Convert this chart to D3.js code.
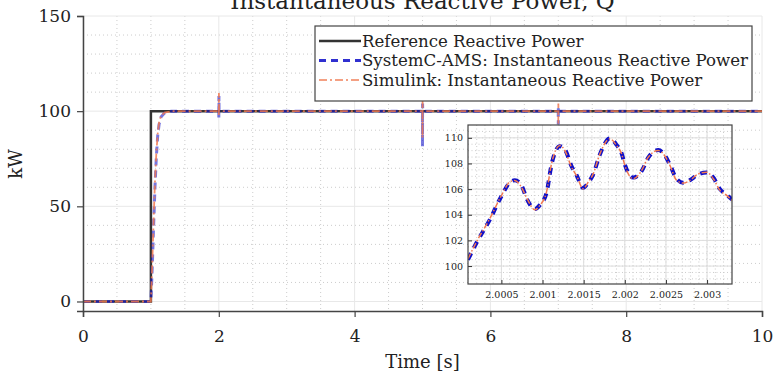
<!DOCTYPE html>
<html>
<head>
<meta charset="utf-8">
<script src="https://cdn.jsdelivr.net/npm/d3@7"></script>
<style>
  body { margin: 0; background: #fff; }
  svg text { font-family: "DejaVu Serif", serif; fill: #222; }
</style>
</head>
<body>
<div id="chart"></div>
<script>
// main plot data
const xTicks = [0, 2, 4, 6, 8, 10];
const yTicks = [0, 50, 100, 150];

const refTime = [0, 1, 1, 10];
const refValue = [0, 0, 100, 100];

const systemcTime = [0, 1.0, 1.02, 1.04, 1.06, 1.08, 1.10, 1.12, 1.15, 1.2, 1.3, 2.0, 2.0003, 2.0018, 2.004, 4.9995, 5.0, 5.001, 5.003, 6.9995, 7.0, 7.001, 7.003, 10];
const systemcValue = [0, 0, 18, 40, 60, 76, 87, 93, 97, 99, 100, 100, 96.5, 108, 100, 100, 81.4, 104, 100, 100, 93, 102, 100, 100];

const simulinkTime = [0, 1.0, 1.02, 1.04, 1.06, 1.08, 1.10, 1.12, 1.15, 1.2, 1.3, 2.0, 2.0003, 2.0018, 2.004, 4.9995, 5.0, 5.001, 5.003, 6.9995, 7.0, 7.001, 7.003, 10];
const simulinkValue = [0, 0, 20, 43, 63, 78, 88, 94, 97.5, 99.2, 100, 100, 97.5, 109.6, 100, 100, 86, 105.4, 100, 100, 93.5, 104, 100, 100];

// inset (zoom around t = 2 s)
const insetXTicks = [2.0005, 2.001, 2.0015, 2.002, 2.0025, 2.003];
const insetXLabels = ["2.0005", "2.001", "2.0015", "2.002", "2.0025", "2.003"];
const insetYTicks = [100, 102, 104, 106, 108, 110];

const insetTime = [2.000094, 2.000196, 2.000358, 2.0005, 2.000601, 2.000662, 2.000743, 2.000812, 2.000906, 2.000967,
  2.001048, 2.001109, 2.00121, 2.001271, 2.001352, 2.001413, 2.001494, 2.001555, 2.001616, 2.001697,
  2.001818, 2.0019, 2.001961, 2.002001, 2.002102, 2.002204, 2.002285, 2.002407, 2.002468, 2.002549,
  2.00263, 2.002711, 2.002792, 2.002893, 2.002995, 2.003076, 2.003157, 2.003238, 2.003303];
const insetSimulink = [100.57, 101.87, 103.69, 105.5, 106.55, 106.68, 106.16, 105.25, 104.39, 104.73,
  105.77, 107.97, 109.4, 109.01, 107.71, 107.06, 106.03, 106.55, 107.19, 108.75,
  109.92, 109.4, 108.75, 107.84, 106.81, 107.45, 108.49, 109.01, 108.75, 107.84,
  106.68, 106.47, 106.68, 107.19, 107.32, 106.81, 105.9, 105.51, 105.12];
const insetSystemC = [100.5, 101.8, 103.6, 105.45, 106.5, 106.7, 106.3, 105.2, 104.45, 104.75,
  105.7, 107.9, 109.35, 109.1, 107.8, 107.1, 106.1, 106.5, 107.15, 108.7,
  109.95, 109.45, 108.8, 107.9, 106.9, 107.4, 108.45, 109.05, 108.8, 107.9,
  106.8, 106.5, 106.7, 107.15, 107.3, 106.9, 106.0, 105.55, 105.2];

const legendNames = ["Reference Reactive Power", "SystemC-AMS: Instantaneous Reactive Power", "Simulink: Instantaneous Reactive Power"];

const W = 774, H = 375;
const margin = { top: 16, right: 12, bottom: 64, left: 83 };
const width = 762 - margin.left;
const height = 311 - margin.top;

const blue = "#1a1acc", orange = "#f07850", dark = "#333";
const FONT = "DejaVu Serif";

const svg = d3.select("#chart").append("svg")
  .attr("width", W).attr("height", H);

const g = svg.append("g")
  .attr("transform", "translate(" + margin.left + "," + margin.top + ")");

const x = d3.scaleLinear().domain([0, 10]).range([0, width]);
const y = d3.scaleLinear().domain([-5, 150]).range([height, 0]);

// grid
g.selectAll(".xminor").data(d3.range(0.5, 10, 0.5).filter(v => v % 2 !== 0))
  .join("line").attr("x1", d => x(d)).attr("x2", d => x(d)).attr("y1", 0).attr("y2", height)
  .attr("stroke", "#ccc").attr("stroke-dasharray", "1,3");
g.selectAll(".yminor").data(d3.range(10, 150, 10).filter(v => v % 50 !== 0))
  .join("line").attr("y1", d => y(d)).attr("y2", d => y(d)).attr("x1", 0).attr("x2", width)
  .attr("stroke", "#ccc").attr("stroke-dasharray", "1,3");
g.selectAll(".xmajor").data(xTicks).join("line")
  .attr("x1", d => x(d)).attr("x2", d => x(d)).attr("y1", 0).attr("y2", height)
  .attr("stroke", "#e8e8e8");
g.selectAll(".ymajor").data(yTicks).join("line")
  .attr("y1", d => y(d)).attr("y2", d => y(d)).attr("x1", 0).attr("x2", width)
  .attr("stroke", "#e8e8e8");

function pts(ts, vs) { return ts.map((t, i) => [t, vs[i]]); }
const line = d3.line().x(d => x(d[0])).y(d => y(d[1]));

g.append("path").attr("d", line(pts(refTime, refValue)))
  .attr("fill", "none").attr("stroke", dark).attr("stroke-width", 2.5);
g.append("path").attr("d", line(pts(systemcTime, systemcValue)))
  .attr("fill", "none").attr("stroke", blue).attr("stroke-width", 3)
  .attr("stroke-dasharray", "7,5").attr("opacity", 0.6);
g.append("path").attr("d", line(pts(simulinkTime, simulinkValue)))
  .attr("fill", "none").attr("stroke", orange).attr("stroke-width", 1.8)
  .attr("stroke-dasharray", "8,3,2,3").attr("opacity", 0.85);

// axes
const xAxis = g.append("g").attr("transform", "translate(0," + height + ")")
  .call(d3.axisBottom(x).tickValues(xTicks).tickSize(6).tickPadding(13));
const yAxis = g.append("g")
  .call(d3.axisLeft(y).tickValues(yTicks).tickSize(6).tickPadding(6));
[xAxis, yAxis].forEach(a => {
  a.attr("font-family", FONT);
  a.select(".domain").attr("stroke", "#444").attr("stroke-width", 1.5);
  a.selectAll(".tick line").attr("stroke", "#444").attr("stroke-width", 1.2);
  a.selectAll(".tick text").style("font-family", FONT).style("font-size", "17px").attr("fill", "#222");
});

g.append("text").attr("x", width / 2).attr("y", height + 57)
  .attr("text-anchor", "middle").style("font-size", "18px").text("Time [s]");
svg.append("text").attr("transform", "translate(22,164) rotate(-90)")
  .attr("text-anchor", "middle").style("font-size", "18px").text("kW");
svg.append("text").attr("x", margin.left + width / 2).attr("y", 9)
  .attr("text-anchor", "middle").style("font-size", "23px").text("Instantaneous Reactive Power, Q");

// legend
const lg = svg.append("g").attr("transform", "translate(315,26)");
lg.append("rect").attr("width", 437).attr("height", 75)
  .attr("fill", "#fff").attr("stroke", "#444").attr("stroke-width", 1.2);
const legendStyles = [
  { stroke: dark, width: 2.5, dash: null, opacity: 1 },
  { stroke: blue, width: 3, dash: "7,5", opacity: 0.9 },
  { stroke: orange, width: 1.8, dash: "8,3,2,3", opacity: 0.7 }
];
legendNames.forEach((name, i) => {
  const ly = 15 + i * 19.5;
  const s = legendStyles[i];
  lg.append("line").attr("x1", 4).attr("x2", 46).attr("y1", ly).attr("y2", ly)
    .attr("stroke", s.stroke).attr("stroke-width", s.width)
    .attr("stroke-dasharray", s.dash).attr("opacity", s.opacity);
  lg.append("text").attr("x", 47).attr("y", ly + 5.5).style("font-size", "16.6px").text(name);
});

// inset
const ix0 = 468, iy0 = 125, iw = 264, ih = 159;
const ig = svg.append("g").attr("transform", "translate(" + ix0 + "," + iy0 + ")");
const ix = d3.scaleLinear().domain([2.000094, 2.003303]).range([0, iw]);
const iy = d3.scaleLinear().domain([98.6, 111]).range([ih, 0]);

ig.append("rect").attr("width", iw).attr("height", ih).attr("fill", "#fff");
ig.append("clipPath").attr("id", "iclip").append("rect").attr("width", iw).attr("height", ih);

ig.selectAll(".ixminor").data(d3.range(2.0002, 2.0033, 0.0001)).join("line")
  .attr("x1", d => ix(d)).attr("x2", d => ix(d)).attr("y1", 0).attr("y2", ih)
  .attr("stroke", "#ccc").attr("stroke-dasharray", "1,2.5");
ig.selectAll(".iyminor").data(d3.range(99, 111, 0.5)).join("line")
  .attr("y1", d => iy(d)).attr("y2", d => iy(d)).attr("x1", 0).attr("x2", iw)
  .attr("stroke", "#ccc").attr("stroke-dasharray", "1,2.5");
ig.selectAll(".ixmajor").data(insetXTicks).join("line")
  .attr("x1", d => ix(d)).attr("x2", d => ix(d)).attr("y1", 0).attr("y2", ih)
  .attr("stroke", "#ddd");
ig.selectAll(".iymajor").data(insetYTicks).join("line")
  .attr("y1", d => iy(d)).attr("y2", d => iy(d)).attr("x1", 0).attr("x2", iw)
  .attr("stroke", "#ddd");

const iline = d3.line().curve(d3.curveMonotoneX).x(d => ix(d[0])).y(d => iy(d[1]));
const ic = ig.append("g").attr("clip-path", "url(#iclip)");
ic.append("path").attr("d", iline(pts(insetTime, insetSystemC)))
  .attr("fill", "none").attr("stroke", "#1010c8").attr("stroke-width", 4)
  .attr("stroke-dasharray", "7,6");
ic.append("path").attr("d", iline(pts(insetTime, insetSimulink)))
  .attr("fill", "none").attr("stroke", orange).attr("stroke-width", 1.5)
  .attr("stroke-dasharray", "6,2,1.5,2");

const ixAxis = ig.append("g").attr("transform", "translate(0," + ih + ")")
  .call(d3.axisBottom(ix).tickValues(insetXTicks).tickFormat((d, i) => insetXLabels[i]).tickSize(-4).tickPadding(7));
const iyAxis = ig.append("g")
  .call(d3.axisLeft(iy).tickValues(insetYTicks).tickSize(-4).tickPadding(5));
[ixAxis, iyAxis].forEach(a => {
  a.attr("font-family", FONT);
  a.select(".domain").remove();
  a.selectAll(".tick line").attr("stroke", "#333");
  a.selectAll(".tick text").style("font-family", FONT).style("font-size", "9.5px").attr("fill", "#333");
});
ig.append("rect").attr("width", iw).attr("height", ih)
  .attr("fill", "none").attr("stroke", "#444").attr("stroke-width", 1.2);
</script>
</body>
</html>
